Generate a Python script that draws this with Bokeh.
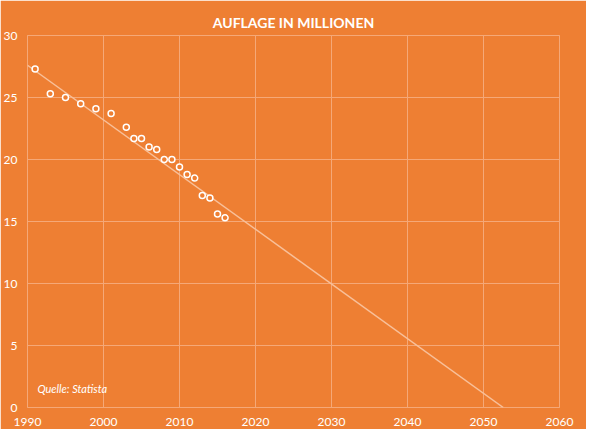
from bokeh.plotting import figure
from bokeh.embed import file_html
from bokeh.resources import INLINE
from bokeh.models import Range1d, FixedTicker, Title, Label

years = [1991, 1993, 1995, 1997, 1999, 2001, 2003, 2004, 2005, 2006, 2007, 2008, 2009, 2010, 2011, 2012, 2013, 2014, 2015, 2016]
auflage = [27.3, 25.3, 25.0, 24.5, 24.1, 23.7, 22.6, 21.7, 21.7, 21.0, 20.8, 20.0, 20.0, 19.4, 18.8, 18.5, 17.1, 16.9, 15.6, 15.3]
trend_x = [1990, 2052.6]
trend_y = [27.6, 0]

bg = "#EE7F33"
p = figure(width=586, height=429, output_backend="svg", toolbar_location=None,
           x_range=Range1d(1990, 2060), y_range=Range1d(0, 30),
           background_fill_color=bg, border_fill_color=bg,
           min_border_left=26, min_border_right=27, min_border_top=35, min_border_bottom=22)
p.outline_line_color = "#F5A877"
t = Title(text="AUFLAGE IN MILLIONEN", align="center", text_color="white",
          text_font="Lato", text_font_size="14px", text_font_style="bold")
p.add_layout(t, "above")
p.title.visible = False
p.xaxis.ticker = FixedTicker(ticks=list(range(1990, 2061, 10)))
p.yaxis.ticker = FixedTicker(ticks=list(range(0, 31, 5)))
for ax in (p.xaxis, p.yaxis):
    ax.axis_line_color = None
    ax.major_tick_line_color = None
    ax.minor_tick_line_color = None
    ax.major_label_text_color = "white"
    ax.major_label_text_font = "Lato"
    ax.major_label_text_font_size = "12px"
    ax.major_label_standoff = 4
p.grid.grid_line_color = "#F5A877"
p.grid.grid_line_width = 1
p.line(trend_x, trend_y, line_color="#F8C09A", line_width=1.5)
p.scatter(years, auflage, size=6, fill_color=bg, line_color="white", line_width=1.5)
p.add_layout(Label(x=1991.3, y=1.0, text="Quelle: Statista", text_color="white",
                   text_font="Lato", text_font_size="11px", text_font_style="italic"))
open("out.html", "w").write(file_html(p, INLINE))
